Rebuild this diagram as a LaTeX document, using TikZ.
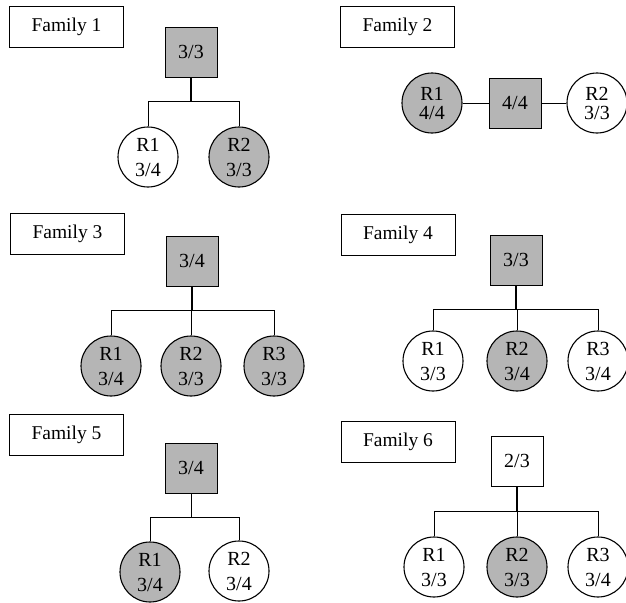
\documentclass[tikz,border=0pt]{standalone}
\usepackage{fontspec}
\setmainfont{Liberation Serif}
\usepackage{tikz}
\definecolor{affgray}{gray}{0.71}
\tikzset{
  fam/.style={draw, line width=0.9pt, minimum width=114pt, minimum height=41pt, font=\fontsize{19.5}{22}\selectfont},
  sq/.style={draw, line width=0.9pt, minimum width=52pt, minimum height=50pt, font=\fontsize{20}{22}\selectfont},
  kid/.style={circle, draw, line width=1.1pt, minimum size=60pt, inner sep=0pt, align=center, font=\fontsize{20}{25}\selectfont},
  tight/.style={font=\fontsize{20}{19}\selectfont},
  aff/.style={fill=affgray},
  link/.style={line width=0.9pt},
  stem/.style={line width=1.6pt}
}

\begin{document}
\begin{tikzpicture}[x=1pt, y=-1pt]
\useasboundingbox (0,0) rectangle (626,602);

\node[fam] (l1) at (66.5, 27) {Family 1};
\node[sq, aff] (p1) at (191, 52) {3/3};
\coordinate (h1) at (191, 101);
\node[kid] (a1) at (148, 157) {R1\\3/4};
\node[kid, aff] (b1) at (239, 157) {R2\\3/3};
\draw[stem] (p1.south) -- (h1);
\draw[link] (a1.north) -- (a1.north |- h1) -- (b1.north |- h1) -- (b1.north);

\node[fam] (l2) at (397.5, 27) {Family 2};
\node[kid, aff, tight] (a2) at (432, 103) {R1\\4/4};
\node[sq, aff] (p2) at (515, 103) {4/4};
\node[kid, tight] (b2) at (597, 103) {R2\\3/3};
\draw[link] (a2) -- (p2) -- (b2);

\node[fam] (l3) at (67.5, 233.5) {Family 3};
\node[sq, aff] (p3) at (192, 261) {3/4};
\coordinate (h3) at (192, 310);
\node[kid, aff] (a3) at (111, 366) {R1\\3/4};
\node[kid, aff] (b3) at (191, 366) {R2\\3/3};
\node[kid, aff] (c3) at (274, 366) {R3\\3/3};
\draw[stem] (p3.south) -- (h3);
\draw[link] (a3.north) -- (a3.north |- h3) -- (c3.north |- h3) -- (c3.north);
\draw[link] (b3.north) -- (b3.north |- h3);

\node[fam] (l4) at (398, 234.5) {Family 4};
\node[sq, aff] (p4) at (516, 260) {3/3};
\coordinate (h4) at (516, 309);
\node[kid] (a4) at (433, 361) {R1\\3/3};
\node[kid, aff] (b4) at (517, 361) {R2\\3/4};
\node[kid] (c4) at (598, 361) {R3\\3/4};
\draw[stem] (p4.south) -- (h4);
\draw[link] (a4.north) -- (a4.north |- h4) -- (c4.north |- h4) -- (c4.north);
\draw[link] (b4.north) -- (b4.north |- h4);

\node[fam] (l5) at (66.5, 435) {Family 5};
\node[sq, aff] (p5) at (191, 468) {3/4};
\coordinate (h5) at (191, 517);
\node[kid, aff] (a5) at (150, 572) {R1\\3/4};
\node[kid] (b5) at (239, 571) {R2\\3/4};
\draw[link] (p5.south) -- (h5);
\draw[link] (a5.north) -- (a5.north |- h5) -- (b5.north |- h5) -- (b5.north);

\node[fam] (l6) at (398, 442) {Family 6};
\node[sq] (p6) at (517, 461) {2/3};
\coordinate (h6) at (517, 511);
\node[kid] (a6) at (434, 567) {R1\\3/3};
\node[kid, aff] (b6) at (517, 567) {R2\\3/3};
\node[kid] (c6) at (598, 567) {R3\\3/4};
\draw[stem] (p6.south) -- (h6);
\draw[link] (a6.north) -- (a6.north |- h6) -- (c6.north |- h6) -- (c6.north);
\draw[link] (b6.north) -- (b6.north |- h6);
\end{tikzpicture}
\end{document}
